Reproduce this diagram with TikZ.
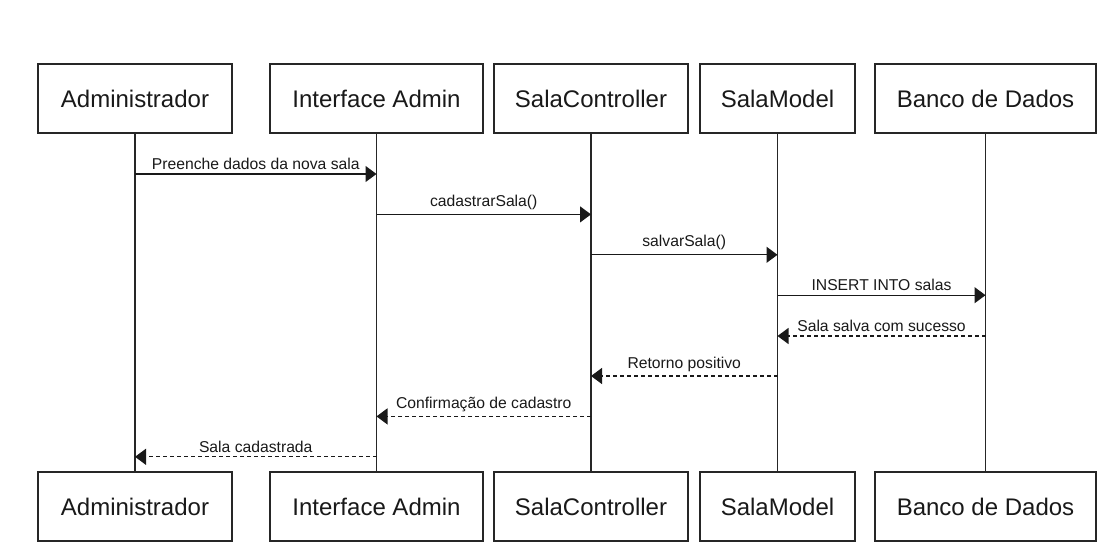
\documentclass[tikz,border=0pt]{standalone}
\usepackage{fontspec}
\setmainfont{Liberation Sans}
\usetikzlibrary{arrows.meta}
\begin{document}
\begin{tikzpicture}[x=1pt,y=-1pt,
  actor/.style={draw=black!85, line width=1.2pt, fill=white, minimum height=69pt, inner sep=0pt,
    font=\fontsize{24}{28}\selectfont, text=black!90},
  life/.style={line width=1.2pt, draw=black!85},
  msg/.style={line width=1.2pt, draw=black!90, -{Triangle[length=11pt,width=16pt]}},
  ret/.style={msg, dash pattern=on 4pt off 3pt},
  lbl/.style={above, inner sep=0pt, yshift=4pt, font=\fontsize{15.7}{18}\selectfont, text=black!90}]
\useasboundingbox (0,0) rectangle (1113,551);
% top actors
\node[actor, minimum width=194pt] (tA) at (135,98.5) {Administrador};
\node[actor, minimum width=213pt] (tI) at (376.5,98.5) {Interface Admin};
\node[actor, minimum width=194pt] (tC) at (591,98.5) {SalaController};
\node[actor, minimum width=155pt] (tM) at (777.5,98.5) {SalaModel};
\node[actor, minimum width=221pt] (tB) at (985.5,98.5) {Banco de Dados};
% bottom actors
\node[actor, minimum width=194pt] (bA) at (135,506.5) {Administrador};
\node[actor, minimum width=213pt] (bI) at (376.5,506.5) {Interface Admin};
\node[actor, minimum width=194pt] (bC) at (591,506.5) {SalaController};
\node[actor, minimum width=155pt] (bM) at (777.5,506.5) {SalaModel};
\node[actor, minimum width=221pt] (bB) at (985.5,506.5) {Banco de Dados};
% lifelines
\draw[life] (tA.south) -- (bA.north);
\draw[life] (tI.south) -- (bI.north);
\draw[life] (tC.south) -- (bC.north);
\draw[life] (tM.south) -- (bM.north);
\draw[life] (tB.south) -- (bB.north);
% messages
\draw[msg] (tA |- 0,174) -- node[lbl]{Preenche dados da nova sala} (tI |- 0,174);
\draw[msg] (tI |- 0,214.4) -- node[lbl]{cadastrarSala()} (tC |- 0,214.4);
\draw[msg] (tC |- 0,254.8) -- node[lbl]{salvarSala()} (tM |- 0,254.8);
\draw[msg] (tM |- 0,295.2) -- node[lbl]{INSERT INTO salas} (tB |- 0,295.2);
\draw[ret] (tB |- 0,336) -- node[lbl]{Sala salva com sucesso} (tM |- 0,336);
\draw[ret] (tM |- 0,376) -- node[lbl]{Retorno positivo} (tC |- 0,376);
\draw[ret] (tC |- 0,416.4) -- node[lbl]{Confirmação de cadastro} (tI |- 0,416.4);
\draw[ret] (tI |- 0,456.8) -- node[lbl]{Sala cadastrada} (tA |- 0,456.8);
\end{tikzpicture}
\end{document}
